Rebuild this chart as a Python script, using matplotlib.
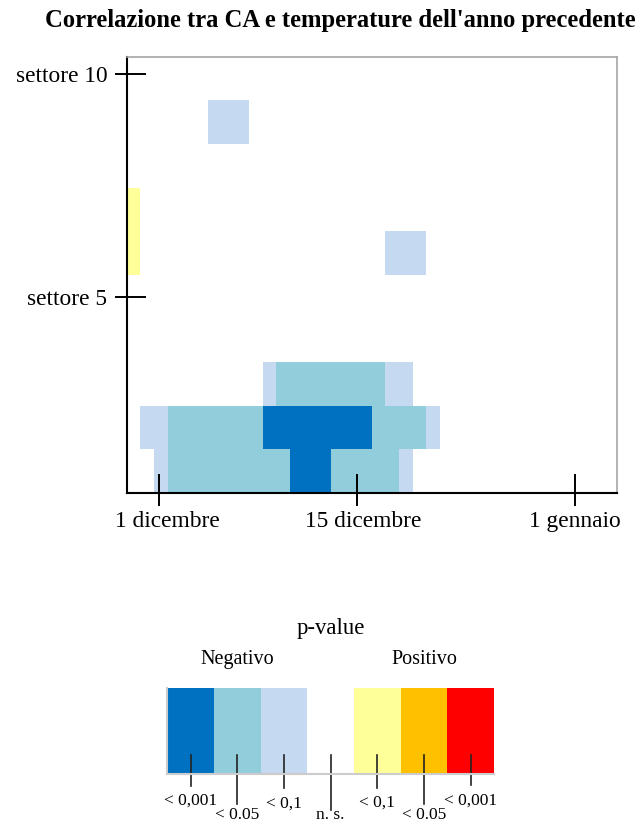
import matplotlib
matplotlib.use("Agg")
import matplotlib.pyplot as plt
import matplotlib.transforms as mtransforms
from matplotlib.colors import ListedColormap, BoundaryNorm
import numpy as np

plt.rcParams["font.family"] = ["Liberation Serif", "DejaVu Serif"]

# p-value classes: -3 neg p<0.001 ... 0 n.s. ... 3 pos p<0.001
class_codes = {"D": -3, "M": -2, "L": -1, ".": 0, "Y": 1, "O": 2, "R": 3}
class_colors = ["#0070C0", "#92CDDC", "#C5D9F1", "#FFFFFF", "#FFFF99", "#FFC000", "#FF0000"]
class_labels = ["< 0,001", "< 0.05", "< 0,1", "n. s.", "< 0,1", "< 0.05", "< 0,001"]

# one string per sector (settore 1 at the bottom), one char per time step
sector_rows = [
    "..LMMMMMMMMMDDDMMMMML...............",
    ".LLMMMMMMMDDDDDDDDMMMML.............",
    "..........LMMMMMMMMLL...............",
    "....................................",
    "....................................",
    "Y..................LLL..............",
    "Y...................................",
    "....................................",
    "......LLL...........................",
    "....................................",
]

x_tick_labels = ["1 dicembre", "15 dicembre", "1 gennaio"]
y_tick_labels = ["settore 5", "settore 10"]

grid = np.array([[class_codes[c] for c in row] for row in sector_rows])
n_rows, n_cols = grid.shape

W, H = 641, 824
fig = plt.figure(figsize=(W / 100, H / 100), dpi=100)


def fx(px):
    return px / W


def fy(py):
    return 1 - py / H


cmap = ListedColormap(class_colors)
norm = BoundaryNorm(np.arange(-3.5, 4.5, 1), cmap.N)

# main heatmap
ax = fig.add_axes([fx(126.7), fy(493), fx(616.7) - fx(126.7), fy(56.7) - fy(493)])
ax.pcolormesh(np.arange(n_cols + 1), np.arange(n_rows + 1), grid, cmap=cmap, norm=norm)
ax.set_xlim(0, n_cols)
ax.set_ylim(0, n_rows)

for side in ["left", "bottom"]:
    ax.spines[side].set_color("black")
    ax.spines[side].set_linewidth(1.5)
for side in ["top", "right"]:
    ax.spines[side].set_color("#a6a6a6")
    ax.spines[side].set_linewidth(1.2)

xt = [2.4, 16.9, 32.9]
yt = [4.5, 9.6]
ax.set_xticks(xt)
ax.set_xticklabels(x_tick_labels, fontsize=16.8)
ax.set_yticks(yt)
ax.set_yticklabels(y_tick_labels, fontsize=16.8)
ax.set_xticks(xt, minor=True)
ax.set_yticks(yt, minor=True)
ax.xaxis.remove_overlapping_locs = False
ax.yaxis.remove_overlapping_locs = False
ax.tick_params(which="major", direction="in", length=14, width=1.4, color="black")
ax.tick_params(which="minor", direction="out", length=9, width=1.4, color="black")
ax.tick_params(axis="x", which="major", pad=13)
ax.tick_params(axis="y", which="major", pad=14)

offsets = [8, 6, 0]
for lab, dx in zip(ax.get_xticklabels(), offsets):
    lab.set_transform(lab.get_transform() + mtransforms.ScaledTranslation(dx / 100, 0, fig.dpi_scale_trans))

fig.text(fx(340.7), fy(27.3), "Correlazione tra CA e temperature dell'anno precedente",
         ha="center", va="baseline", fontsize=17.7, fontweight="bold")

# legend
lg = fig.add_axes([fx(167.3), fy(773.7), fx(494) - fx(167.3), fy(688.3) - fy(773.7)])
n_cls = len(class_colors)
lg.bar(np.arange(n_cls), 1, width=1, align="edge", color=class_colors, linewidth=0)
lg.set_xlim(0, n_cls)
lg.set_ylim(0, 1)
lg.set_xticks([])
lg.set_yticks([])
for side in ["top", "right"]:
    lg.spines[side].set_visible(False)
for side in ["left", "bottom"]:
    lg.spines[side].set_color("#cccccc")
    lg.spines[side].set_linewidth(1.5)

blend = mtransforms.blended_transform_factory(lg.transData, fig.transFigure)
line_bottom = [786, 804, 788, 810, 788, 804, 785]
label_base = [805, 819, 808, 819, 807, 819, 805]
for i, lab in enumerate(class_labels):
    lg.plot([i + 0.5, i + 0.5], [fy(755), fy(line_bottom[i])], color="#222222",
            lw=1.2, transform=blend, clip_on=False)
    lg.text(i + 0.5, fy(label_base[i]), lab, transform=blend, ha="center",
            va="baseline", fontsize=12.5)

fig.text(fx(330.8), fy(634.3), "p-value", ha="center", va="baseline", fontsize=16.4)
fig.text(fx(237.3), fy(664.3), "Negativo", ha="center", va="baseline", fontsize=14.5)
fig.text(fx(424), fy(664.3), "Positivo", ha="center", va="baseline", fontsize=14.5)

fig.savefig("out.png", dpi=100)
